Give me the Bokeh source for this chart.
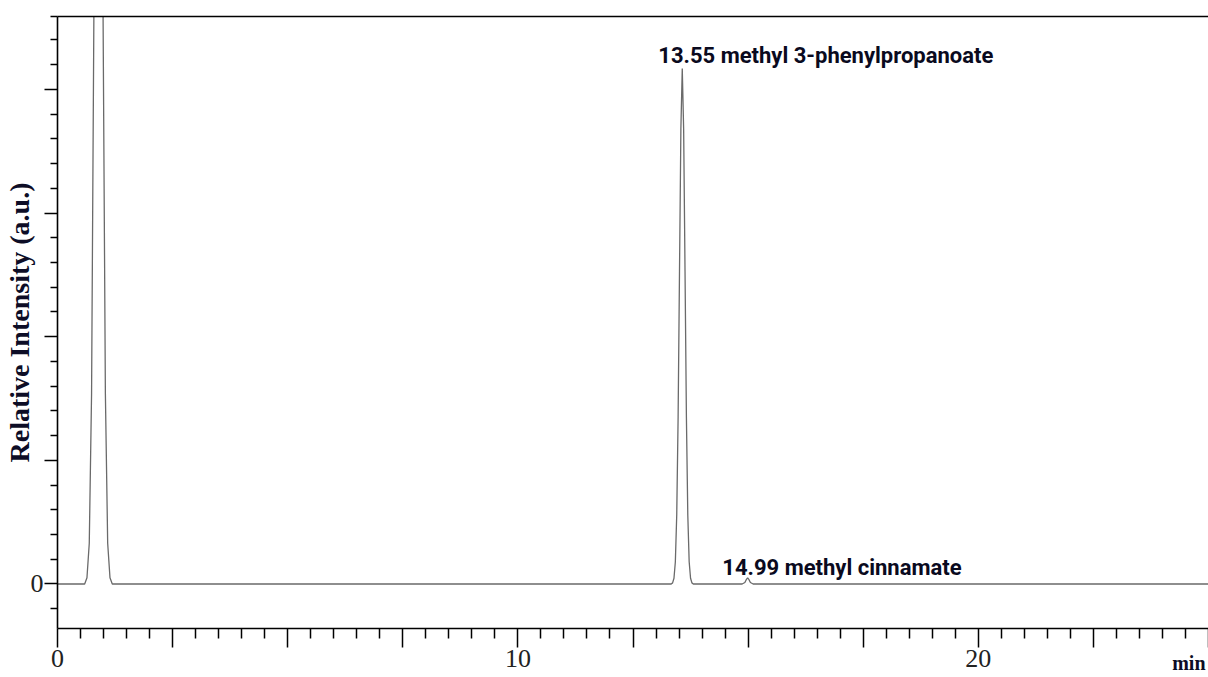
from bokeh.plotting import figure
from bokeh.models import FixedTicker, LinearAxis, Range1d, ColumnDataSource, Title
from bokeh.core.properties import value
from bokeh.embed import file_html
from bokeh.resources import INLINE

# ---- data ----
time_min = [0.0, 0.59, 0.64, 0.69, 0.74, 0.79, 0.84, 0.89, 0.94, 0.99, 1.04, 1.09, 1.14, 1.19,
            13.33, 13.36, 13.39, 13.42, 13.45, 13.48, 13.51, 13.54, 13.57, 13.60, 13.63, 13.66,
            13.69, 13.72, 13.75, 13.78, 13.81,
            14.87, 14.93, 14.96, 14.99, 15.02, 15.05, 15.11, 25.0]
intensity = [0.0, 0.0, 0.05, 0.33, 1.54, 4.59, 8.84, 11.0, 8.84, 4.59, 1.54, 0.33, 0.05, 0.0,
             0.0, 0.009, 0.046, 0.18, 0.56, 1.35, 2.53, 3.68, 4.17, 3.68, 2.53, 1.35,
             0.56, 0.18, 0.046, 0.009, 0.0,
             0.0, 0.012, 0.035, 0.05, 0.035, 0.012, 0.0, 0.0]

peak_labels = ["13.55 methyl 3-phenylpropanoate", "14.99 methyl cinnamate"]
label_x = [13.05, 14.44]
label_y = [4.274, 0.137]

x_major = [0, 2.5, 5, 7.5, 10, 12.5, 15, 17.5, 20, 22.5, 25]
x_labels = {0: "0", 10: "10", 20: "20"}
y_major = [0, 1, 2, 3, 4]
y_labels = {0: "0"}

X_MAX = 25.0
Y_MIN, Y_MAX = -0.36, 4.59

# ---- figure ----
p = figure(width=1208, height=677, x_range=Range1d(0, X_MAX), y_range=Range1d(Y_MIN, Y_MAX),
           output_backend="svg", toolbar_location=None,
           min_border_left=57, min_border_right=0, min_border_top=16, min_border_bottom=49)
p.xgrid.visible = False
p.ygrid.visible = False
p.outline_line_color = None
p.background_fill_color = "white"
p.border_fill_color = "white"

p.line(time_min, intensity, line_color="#6a6a6a", line_width=1.3)

src = ColumnDataSource(dict(x=label_x, y=label_y, t=peak_labels))
p.text(x="x", y="y", text="t", source=src, text_font=value("Roboto"),
       text_font_style="bold", text_font_size="22px", text_color="#0a0a1e",
       text_align="left", text_baseline="alphabetic")

# x axis
xa = p.xaxis[0]
x_minor = [i * 0.5 for i in range(51) if (i * 0.5) not in x_major]
xa.ticker = FixedTicker(ticks=x_major, minor_ticks=x_minor)
xa.major_label_overrides = {t: x_labels.get(t, "") for t in x_major}
xa.major_tick_out = 19
xa.major_tick_in = 0
xa.minor_tick_out = 10
xa.minor_tick_in = 0
xa.axis_line_width = 1.6
xa.major_tick_line_width = 1.5
xa.minor_tick_line_width = 1.5
xa.axis_line_color = "black"
xa.major_label_text_font = "Liberation Serif"
xa.major_label_text_font_size = "26px"
xa.major_label_text_color = "#222222"
xa.major_label_standoff = 2
# tiny blank axis label with negative standoff: shrinks the axis panel so the unit title fits
xa.axis_label = " "
xa.axis_label_text_font_size = "1px"
xa.axis_label_standoff = -24

# unit label at the lower right
p.add_layout(Title(text="min", align="right", text_font="Liberation Serif",
                   text_font_style="bold", text_font_size="20px", text_color="#0d0d26",
                   standoff=0, offset=3), "below")

# y axis
ya = p.yaxis[0]
y_minor = [round(-0.2 + 0.2 * i, 2) for i in range(24)]
y_minor = [v for v in y_minor if v not in y_major] + [Y_MAX]
ya.ticker = FixedTicker(ticks=y_major, minor_ticks=y_minor)
ya.major_label_overrides = {t: y_labels.get(t, "") for t in y_major}
ya.major_tick_out = 13
ya.major_tick_in = 0
ya.minor_tick_out = 7
ya.minor_tick_in = 0
ya.axis_line_width = 1.6
ya.major_tick_line_width = 1.5
ya.minor_tick_line_width = 1.5
ya.major_label_text_font = "Liberation Serif"
ya.major_label_text_font_size = "26px"
ya.major_label_text_color = "#222222"
ya.major_label_standoff = 1
ya.axis_label = "Relative Intensity (a.u.)"
ya.axis_label_standoff = -7
ya.axis_label_text_font = "Liberation Serif"
ya.axis_label_text_font_style = "bold"
ya.axis_label_text_font_size = "28px"
ya.axis_label_text_color = "#0d0d26"

# top frame line
top = LinearAxis(ticker=FixedTicker(ticks=[]), major_label_text_font_size="0px",
                 major_tick_out=0, minor_tick_out=0, axis_line_width=1.6, axis_line_color="black")
p.add_layout(top, "above")

open("out.html", "w").write(file_html(p, INLINE))
